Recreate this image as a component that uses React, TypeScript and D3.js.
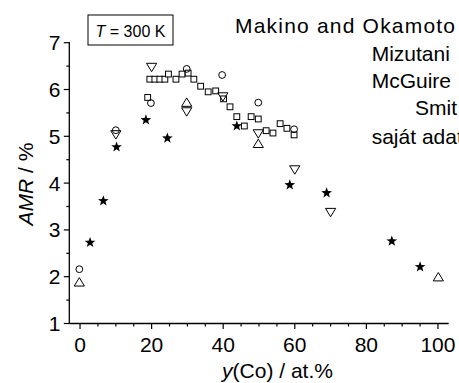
import React from "react";
import * as d3 from "d3";

const W = 459;
const H = 383;

// Data [x = y(Co) at.%, y = AMR %]
const makinoOkamoto: [number, number][] = [
  [-0.2, 2.16], [10.0, 5.13], [19.8, 5.71], [29.8, 6.44], [39.7, 6.31], [49.8, 5.72], [59.8, 5.15],
];
const mizutani: [number, number][] = [
  [18.9, 5.83], [19.5, 6.22], [20.9, 6.22], [22.3, 6.22], [23.7, 6.22], [24.7, 6.33], [26.8, 6.22],
  [28.5, 6.33], [30.2, 6.35], [31.8, 6.22], [33.7, 6.07], [35.8, 5.95], [37.9, 5.97], [40.1, 5.8],
  [41.9, 5.63], [43.8, 5.42], [45.9, 5.22], [47.8, 5.42], [49.8, 5.37], [52.0, 5.12], [53.9, 5.07],
  [55.9, 5.27], [57.8, 5.17], [59.8, 5.03],
];
const mcGuire: [number, number][] = [
  [10.0, 5.03], [20.0, 6.47], [29.8, 5.52], [39.9, 5.84], [49.8, 5.05], [60.0, 4.28], [70.0, 3.37],
];
const smit: [number, number][] = [
  [-0.2, 1.89], [29.8, 5.73], [49.8, 4.85], [100.1, 2.0],
];
const sajat: [number, number][] = [
  [2.8, 2.73], [6.5, 3.62], [10.2, 4.77], [18.4, 5.35], [24.4, 4.96], [43.8, 5.22], [58.6, 3.96],
  [68.9, 3.79], [87.1, 2.76], [95.0, 2.21],
];

const xMajor = [0, 20, 40, 60, 80, 100];
const xMinor = d3.range(0, 101, 5);
const yMajor = [1, 2, 3, 4, 5, 6, 7];
const yMinor = d3.range(1, 7.01, 0.5);

const legendLabels = ["Makino and Okamoto", "Mizutani", "McGuire", "Smit", "saját adatok"];

const FONT = "'Liberation Sans', Arial, sans-serif";

const x = d3.scaleLinear().domain([-3, 103]).range([69.3, 448.7]);
const y = d3.scaleLinear().domain([1, 7]).range([323.5, 42.7]);

function starPath(R: number, r: number) {
  const pts: [number, number][] = [];
  for (let i = 0; i < 10; i++) {
    const a = -Math.PI / 2 + (i * Math.PI) / 5;
    const rad = i % 2 === 0 ? R : r;
    pts.push([rad * Math.cos(a), rad * Math.sin(a)]);
  }
  return "M" + pts.map((p) => p[0].toFixed(2) + "," + p[1].toFixed(2)).join("L") + "Z";
}
const STAR = starPath(5.6, 2.3);
const TW = 10.2;
const TH = 8.4;
const TRI_UP = `M0,${-TH / 2}L${TW / 2},${TH / 2}L${-TW / 2},${TH / 2}Z`;
const TRI_DOWN = `M0,${TH / 2}L${TW / 2},${-TH / 2}L${-TW / 2},${-TH / 2}Z`;
const SQ = 5.8;

export default function App() {
  const legendPos = [
    { x: 235, y: 32.5, len: 220 },
    { x: 371.7, y: 61, len: 0 },
    { x: 371.7, y: 87.5, len: 0 },
    { x: 415, y: 115, len: 0 },
    { x: 371.7, y: 144, len: 0 },
  ];
  return (
    <div style={{ position: "absolute", left: 0, top: 0 }}>
      <svg width={W} height={H} style={{ display: "block", overflow: "hidden" }} fontFamily={FONT}>
        <rect width={W} height={H} fill="#fff" />
        {/* axes */}
        <line x1={x(-3)} x2={x(103)} y1={y(1)} y2={y(1)} stroke="#000" strokeWidth={1.3} />
        <line x1={x(-3)} x2={x(-3)} y1={y(1)} y2={y(7) - 0.8} stroke="#000" strokeWidth={1.3} />
        {xMinor.map((v) => (
          <line key={"xm" + v} x1={x(v)} x2={x(v)} y1={y(1)} y2={y(1) + (xMajor.includes(v) ? 5.5 : 3)} stroke="#000" strokeWidth={1.2} />
        ))}
        {xMajor.map((v) => (
          <text key={"xl" + v} x={x(v)} y={351.7} fontSize={21} textAnchor="middle">{v}</text>
        ))}
        {yMinor.map((v) => (
          <line key={"ym" + v} x1={x(-3)} x2={x(-3) - (Number.isInteger(v) ? 5.5 : 3)} y1={y(v)} y2={y(v)} stroke="#000" strokeWidth={1.2} />
        ))}
        {yMajor.map((v) => (
          <text key={"yl" + v} x={60.5} y={y(v) + 7.5} fontSize={21} textAnchor="end">{v}</text>
        ))}
        {/* axis titles */}
        <text transform="translate(33,184) rotate(-90)" fontSize={21} textAnchor="middle">
          <tspan fontStyle="italic">AMR</tspan> / %
        </text>
        <text x={277.5} y={377.5} fontSize={21} textAnchor="middle">
          <tspan fontStyle="italic">y</tspan>(Co) / at.%
        </text>
        {/* T box */}
        <rect x={88} y={15} width={85} height={30} fill="#fff" stroke="#000" strokeWidth={1} />
        <text x={130.5} y={36.5} fontSize={16} textAnchor="middle">
          <tspan fontStyle="italic">T</tspan> = 300 K
        </text>
        {/* legend text */}
        {legendLabels.map((t, i) => (
          <text
            key={t}
            x={legendPos[i].x}
            y={legendPos[i].y}
            fontSize={21}
            {...(legendPos[i].len ? { textLength: legendPos[i].len, lengthAdjust: "spacing" } : {})}
          >
            {t}
          </text>
        ))}
        {/* data */}
        {mizutani.map((d, i) => (
          <rect key={"sq" + i} x={x(d[0]) - SQ / 2} y={y(d[1]) - SQ / 2} width={SQ} height={SQ} fill="#fff" stroke="#000" strokeWidth={1} />
        ))}
        {makinoOkamoto.map((d, i) => (
          <circle key={"c" + i} cx={x(d[0])} cy={y(d[1])} r={3.4} fill="none" stroke="#000" strokeWidth={1} />
        ))}
        {mcGuire.map((d, i) => (
          <path key={"td" + i} d={TRI_DOWN} transform={`translate(${x(d[0])},${y(d[1])})`} fill="none" stroke="#000" strokeWidth={1} />
        ))}
        {smit.map((d, i) => (
          <path key={"tu" + i} d={TRI_UP} transform={`translate(${x(d[0])},${y(d[1])})`} fill="none" stroke="#000" strokeWidth={1} />
        ))}
        {sajat.map((d, i) => (
          <path key={"st" + i} d={STAR} transform={`translate(${x(d[0])},${y(d[1])})`} fill="#000" />
        ))}
      </svg>
    </div>
  );
}
